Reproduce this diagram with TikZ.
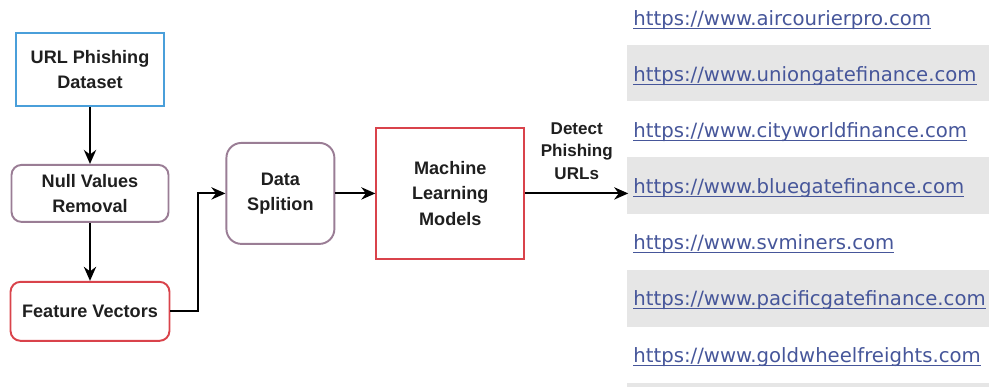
\documentclass[tikz,border=0pt]{standalone}
\usepackage{fontspec}
\setmainfont{Liberation Sans}
\newfontfamily\linkfont{DejaVu Sans}
\usetikzlibrary{shapes.geometric, arrows.meta, positioning}
\definecolor{datasetBlue}{HTML}{4A9FDA}
\definecolor{stepMauve}{HTML}{9A7D95}
\definecolor{modelRed}{HTML}{D9434B}
\definecolor{linkBlue}{HTML}{46569A}
\definecolor{rowGray}{HTML}{E6E6E6}
\newcommand{\linkline}[1]{\setbox0\hbox{#1}\rlap{\rule[-1.9pt]{\wd0}{0.6pt}}\box0}

\begin{document}
\begin{tikzpicture}[x=0.02cm, y=-0.02cm]
	\tikzstyle{source} = [rectangle, minimum width=2.96cm, minimum height=1.46cm, 
	align=center, draw=datasetBlue, line width=1.1pt, text=black!88, 
	font=\fontsize{10.3}{14}\selectfont\bfseries]
	\tikzstyle{process} = [rectangle, rounded corners=0.2cm, minimum width=3.14cm, 
	minimum height=1.14cm, align=center, draw=stepMauve, line width=1.1pt, 
	text=black!88, font=\fontsize{10.3}{14}\selectfont\bfseries]
	\tikzstyle{model} = [rectangle, minimum width=2.96cm, minimum height=2.62cm, 
	align=center, draw=modelRed, line width=1.1pt, text=black!88, 
	font=\fontsize{10.3}{14.5}\selectfont\bfseries]
	\tikzstyle{link} = [anchor=west, inner sep=0pt, text=linkBlue, 
	font=\linkfont\fontsize{11.2}{13}\selectfont]
	\tikzstyle{arrow} = [line width=1.1pt,-{Stealth[length=8pt,width=7pt]}]
	\useasboundingbox (0,0) rectangle (989,387);
	\fill [rowGray] (627,45) rectangle (989,101);
	\fill [rowGray] (627,157) rectangle (989,214);
	\fill [rowGray] (627,270) rectangle (989,327);
	\fill [rowGray] (627,383) rectangle (989,387);
	\node (dataset) [source] at (90,69.5) {URL Phishing\\Dataset};
	\node (nullValues) [process, below=1.14cm of dataset] {Null Values\\Removal};
	\node (featureVectors) [process, draw=modelRed, minimum width=3.18cm, 
	minimum height=1.18cm, below=1.16cm of nullValues] {Feature Vectors};
	\node (dataSplition) [process, minimum width=2.16cm, minimum height=2.02cm, 
	rounded corners=0.3cm, right=1.12cm of nullValues] {Data\\Splition};
	\node (mlModels) [model, right=0.8cm of dataSplition] {Machine\\Learning\\Models};
	\coordinate [right=2.06cm of mlModels.east] (detectEnd);
	\node (url1) [link] at (633,20) {\linkline{https://www.aircourierpro.com}};
	\node (url2) [link] at (633,76) {\linkline{https://www.uniongatefinance.com}};
	\node (url3) [link] at (633,132) {\linkline{https://www.cityworldfinance.com}};
	\node (url4) [link] at (633,188) {\linkline{https://www.bluegatefinance.com}};
	\node (url5) [link] at (633,244.5) {\linkline{https://www.svminers.com}};
	\node (url6) [link] at (633,300.5) {\linkline{https://www.pacificgatefinance.com}};
	\node (url7) [link] at (633,357) {\linkline{https://www.goldwheelfreights.com}};
	\draw [arrow] (dataset) -- (nullValues);
	\draw [arrow] (nullValues) -- (featureVectors);
	\draw [arrow] (featureVectors.east) -- ++(28,0) |- (dataSplition);
	\draw [arrow] (dataSplition) -- (mlModels);
	\draw [arrow] (mlModels) -- node [above=4pt, align=center, text=black!88, 
	font=\fontsize{9.7}{12.8}\selectfont\bfseries] {Detect\\Phishing\\URLs} (detectEnd);
\end{tikzpicture}
\end{document}
